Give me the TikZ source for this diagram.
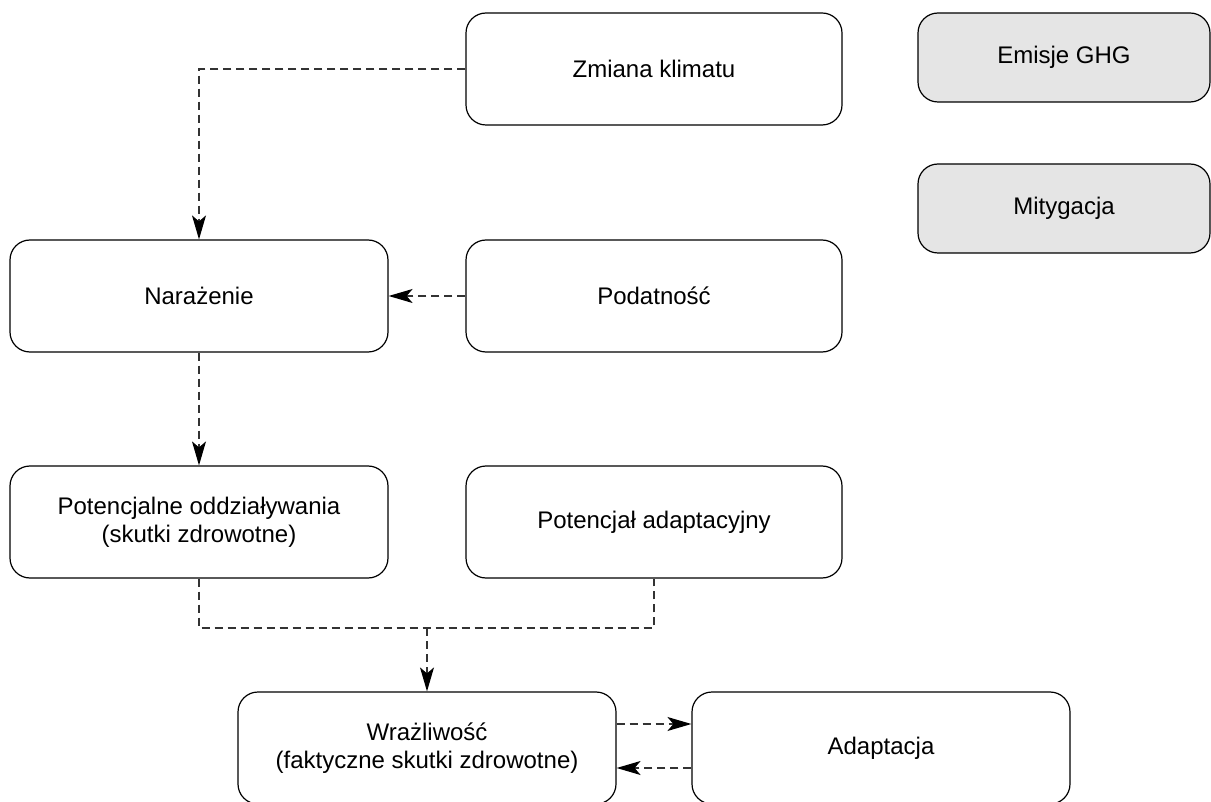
\documentclass[tikz,border=0pt]{standalone}
\usepackage{fontspec}
\setmainfont{Liberation Sans}
\usetikzlibrary{arrows.meta}
\begin{document}
\begin{tikzpicture}[x=1pt,y=-1pt,
  box/.style={draw=black, line width=1.2pt, rounded corners=20pt, fill=white,
    minimum width=376pt, minimum height=112pt, align=center,
    font=\fontsize{24}{28}\selectfont, inner sep=0pt},
  graybox/.style={box, fill=black!10, minimum width=292pt, minimum height=89pt},
  conn/.style={draw=black!80, line width=1.3pt, dash pattern=on 8pt off 5pt},
  arr/.style={conn, -{Stealth[length=24pt,width=14pt,inset=6pt,fill=black,black]}}
]
\useasboundingbox (0,0) rectangle (1211,802);
\clip (0,0) rectangle (1211,802);
\node[box] (zmiana) at (654,69) {Zmiana klimatu};
\node[graybox] (emisje) at (1064,57.5) {Emisje GHG};
\node[graybox] (mityg) at (1064,208.5) {Mitygacja};
\node[box, minimum width=378pt] (naraz) at (199,296) {Narażenie};
\node[box] (podat) at (654,296) {Podatność};
\node[box, minimum width=378pt] (potenc) at (199,522) {Potencjalne oddziaływania\\(skutki zdrowotne)};
\node[box] (potad) at (654,522) {Potencjał adaptacyjny};
\node[box, minimum width=378pt] (wraz) at (427,748) {Wrażliwość\\(faktyczne skutki zdrowotne)};
\node[box, minimum width=378pt] (adapt) at (881,748) {Adaptacja};
\coordinate (j) at (427,628);
\draw[arr] (zmiana.west) -| (naraz.north);
\draw[arr] (podat.west) -- (naraz.east);
\draw[arr] (naraz.south) -- (potenc.north);
\draw[conn] (potenc.south) |- (j) -| (potad.south);
\draw[arr] (j) -- (wraz.north);
\draw[arr] ([yshift=24pt]wraz.east) -- ([yshift=24pt]adapt.west);
\draw[arr] ([yshift=-20pt]adapt.west) -- ([yshift=-20pt]wraz.east);
\end{tikzpicture}
\end{document}
